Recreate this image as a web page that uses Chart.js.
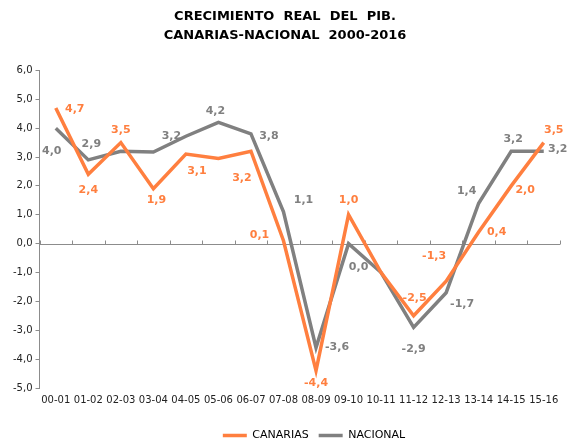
<!DOCTYPE html>
<html>
<head>
<meta charset="utf-8">
<script src="https://cdn.jsdelivr.net/npm/chart.js@4/dist/chart.umd.min.js"></script>
<style>
  html, body { margin: 0; padding: 0; background: #fff; }
  #wrap { width: 567px; height: 442px; position: relative; }
</style>
</head>
<body>
<div id="wrap"><canvas id="pib"></canvas></div>
<script>
// chart data
const periods = ['00-01', '01-02', '02-03', '03-04', '04-05', '05-06', '06-07', '07-08',
  '08-09', '09-10', '10-11', '11-12', '12-13', '13-14', '14-15', '15-16'];
const canarias = [4.7, 2.4, 3.5, 1.9, 3.1, 2.95, 3.2, 0.1, -4.4, 1.0, -1.0, -2.5, -1.3, 0.4, 2.0, 3.5];
const nacional = [4.0, 2.9, 3.2, 3.17, 3.72, 4.2, 3.8, 1.1, -3.6, 0.0, -1.0, -2.9, -1.7, 1.4, 3.2, 3.2];
const yTicks = [-5, -4, -3, -2, -1, 0, 1, 2, 3, 4, 5, 6];

// where each value label sits relative to its point (null = no label)
const canariasLabelPos = [[19, 1], [0, 16], [0, -12], [3, 11], [11, 17], null, [-9, 27], [-24, -6],
  [0, 12], [0, -15], null, [1, -18], [-12, -25], [18, 0], [14, 4], [10, -12]];
const nacionalLabelPos = [[-4, 23], [3, -16], null, [18, -16], null, [-3, -11], [18, 2], [20, -12],
  [21, 0], [10, 24], null, [0, 22], [16, 11], [-12, -12], [2, -12], [14, -2]];

const ORANGE = '#ff7f3f';
const GREY = '#808080';
const AXIS = '#8c8c8c';
const FONT = 'Verdana, "DejaVu Sans", sans-serif';

const fmt = (v) => v.toFixed(1).replace('.', ',');

// zero line with category tick marks, like the original axis crossing at 0
const zeroAxis = {
  id: 'zeroAxis',
  beforeDatasetsDraw(chart) {
    const { ctx, chartArea, scales } = chart;
    const y0 = Math.round(scales.y.getPixelForValue(0)) + 0.5;
    const x = scales.x;
    ctx.save();
    ctx.strokeStyle = AXIS;
    ctx.lineWidth = 1;
    ctx.beginPath();
    ctx.moveTo(chartArea.left, y0);
    ctx.lineTo(chartArea.right, y0);
    const step = (x.getPixelForValue(1) - x.getPixelForValue(0));
    for (let i = 0; i <= periods.length; i++) {
      const px = Math.round(x.getPixelForValue(0) - step / 2 + i * step) + 0.5;
      ctx.moveTo(px, y0);
      ctx.lineTo(px, y0 - 4);
    }
    ctx.stroke();
    ctx.restore();
  }
};

// the original legend sits a bit right of centre and lower
const legendShift = {
  id: 'legendShift',
  afterLayout(chart) {
    if (!chart.legend) return;
    chart.legend.left += 29;
    chart.legend.right += 29;
    chart.legend.top += 9;
    chart.legend.bottom += 9;
  }
};

const valueLabels = {
  id: 'valueLabels',
  afterDatasetsDraw(chart) {
    const { ctx } = chart;
    const positions = [canariasLabelPos, nacionalLabelPos];
    ctx.save();
    ctx.font = 'bold 11px ' + FONT;
    ctx.textAlign = 'center';
    ctx.textBaseline = 'middle';
    chart.data.datasets.forEach((ds, di) => {
      const meta = chart.getDatasetMeta(di);
      ctx.fillStyle = ds.borderColor;
      meta.data.forEach((pt, i) => {
        const pos = positions[di][i];
        if (!pos) return;
        ctx.fillText(fmt(ds.data[i]), pt.x + pos[0], pt.y + pos[1]);
      });
    });
    ctx.restore();
  }
};

new Chart(document.getElementById('pib'), {
  type: 'line',
  data: {
    labels: periods,
    datasets: [
      {
        label: 'CANARIAS',
        data: canarias,
        borderColor: ORANGE,
        backgroundColor: ORANGE,
        borderWidth: 3.5,
        pointRadius: 0,
        tension: 0,
      },
      {
        label: 'NACIONAL',
        data: nacional,
        borderColor: GREY,
        backgroundColor: GREY,
        borderWidth: 3.5,
        pointRadius: 0,
        tension: 0,
      },
    ],
  },
  options: {
    responsive: true,
    maintainAspectRatio: false,
    animation: false,
    layout: { padding: { left: 10, right: 7, top: 0, bottom: 0 } },
    plugins: {
      title: {
        display: true,
        text: ['CRECIMIENTO  REAL  DEL  PIB.', 'CANARIAS-NACIONAL  2000-2016'],
        color: '#000',
        font: { family: FONT, size: 13, weight: 'bold', lineHeight: 1.4 },
        padding: { top: 8, bottom: 26 },
      },
      legend: {
        display: true,
        position: 'bottom',
        labels: {
          color: '#000',
          font: { family: FONT, size: 11 },
          usePointStyle: true,
          pointStyle: 'line',
          pointStyleWidth: 24,
          boxHeight: 6,
          padding: 10,
        },
      },
      tooltip: { enabled: false },
    },
    scales: {
      x: {
        offset: true,
        grid: { display: false },
        border: { display: false },
        afterFit: (axis) => { axis.height += 7; },
        ticks: {
          color: '#222',
          font: { family: FONT, size: 10 },
          maxRotation: 0,
          autoSkip: false,
          padding: -2,
        },
      },
      y: {
        min: yTicks[0],
        max: yTicks[yTicks.length - 1],
        afterBuildTicks: (axis) => { axis.ticks = yTicks.map((v) => ({ value: v })); },
        grid: { drawOnChartArea: false, color: AXIS, tickLength: 4 },
        border: { color: AXIS },
        ticks: {
          color: '#222',
          font: { family: FONT, size: 10 },
          padding: 3,
          callback: (v) => fmt(v),
        },
      },
    },
  },
  plugins: [zeroAxis, legendShift, valueLabels],
});
</script>
</body>
</html>
